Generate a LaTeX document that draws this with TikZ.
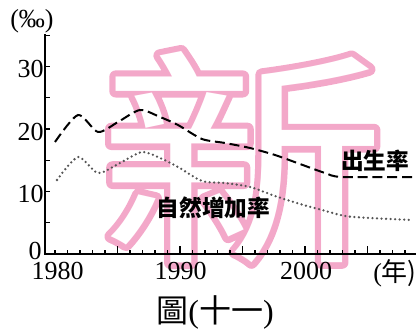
\documentclass[tikz,border=0pt]{standalone}
\usepackage{fontspec}
\setmainfont{Liberation Serif}
\newfontfamily\cjk{Noto Sans CJK TC}
\newfontfamily\wmfont{Noto Sans CJK TC}[FakeStretch=1.255]
\newfontfamily\wmfontbold{Noto Sans CJK TC}[FakeStretch=1.255,FakeBold=5.5]
\usetikzlibrary{calc}
\definecolor{wmpk}{RGB}{243,168,201}
\definecolor{dotgray}{RGB}{85,85,85}
\newcommand\wmsize{\wmfont\fontsize{172}{172}\selectfont}
\newcommand\wmsizeb{\wmfontbold\fontsize{172}{172}\selectfont}
\newcommand\numsize{\fontsize{19.5}{20}\selectfont}
\newcommand\labsize{\cjk\bfseries\fontsize{17}{18}\selectfont}
\tikzset{
  wmcopy/.style={text=wmpk, inner sep=0, font=\wmsizeb},
  wmface/.style={text=white, inner sep=0, font=\wmsize},
  numlab/.style={inner sep=0, font=\numsize},
  serieslab/.style={inner sep=0, font=\labsize},
  axisline/.style={line width=1.1pt, line cap=rect},
  tickline/.style={line width=0.9pt},
  birthline/.style={line width=1.5pt, dash pattern=on 7.5pt off 3.6pt},
  growline/.style={line width=1.9pt, dotgray, line cap=round, dash pattern=on 0pt off 3.4pt}
}
\begin{document}
\begin{tikzpicture}[x=0.75pt,y=-0.75pt]
\useasboundingbox (0,0) rectangle (417,331);
% watermark
\coordinate (wm) at (242,157);
\begin{scope}[line join=round, line cap=round]
\node[wmcopy] (wmb) at (wm) {新};
\end{scope}
\node[wmface] (wmc) at (wm) {新};
% curves
\draw[birthline] plot[smooth,tension=0.45] coordinates {(55,142) (78,115) (98,132) (118,122) (140,110) (160,117) (178,125) (202,139) (225,143) (250,148) (275,155) (300,164) (325,173) (342,177) (415,177)};
\draw[growline] plot[smooth,tension=0.45] coordinates {(57,180) (78,157) (98,173) (120,163) (142,152) (160,158) (178,167) (202,181) (225,183) (250,187) (275,196) (300,204) (322,210) (345,216) (370,218) (412,220)};
% axes
\coordinate (o) at (45,254);
\coordinate (ytop) at (45,35);
\coordinate (xend) at (415,254);
\draw[axisline] (ytop) -- (o) -- (xend);
\foreach \v in {0,5,...,35}{
  \draw[tickline] (45,254-6.25*\v) -- (50,254-6.25*\v);
}
\foreach \k in {0,...,28}{
  \pgfmathtruncatemacro{\m}{mod(\k+5,5)==0 && \k>0 ? 8 : 4}
  \draw[tickline] (55+12.5*\k,254) -- (55+12.5*\k,254-\m);
}
% labels
\node[numlab, anchor=east] (l30) at (44,69) {30};
\node[numlab, anchor=east] (l20) at (44,131.5) {20};
\node[numlab, anchor=east] (l10) at (44,194) {10};
\node[numlab, anchor=east] (l0) at (42,251) {0};
\node[numlab] (t1980) at (57.5,271) {1980};
\node[numlab] (t1990) at (180.5,271) {1990};
\node[numlab] (t2000) at (306,271) {2000};
\node[numlab] (tyear) at (395,273) {(\cjk 年)};
\node[numlab] (unit) at (32,21) {(‰)};
\node[serieslab] (birth) at (375,161) {出生率};
\node[serieslab] (grow) at (213.5,208) {自然增加率};
\node[inner sep=0, font=\fontsize{24}{26}\selectfont] (title) at (215,312) {{\cjk 圖}({\cjk 十一})};
\end{tikzpicture}
\end{document}
